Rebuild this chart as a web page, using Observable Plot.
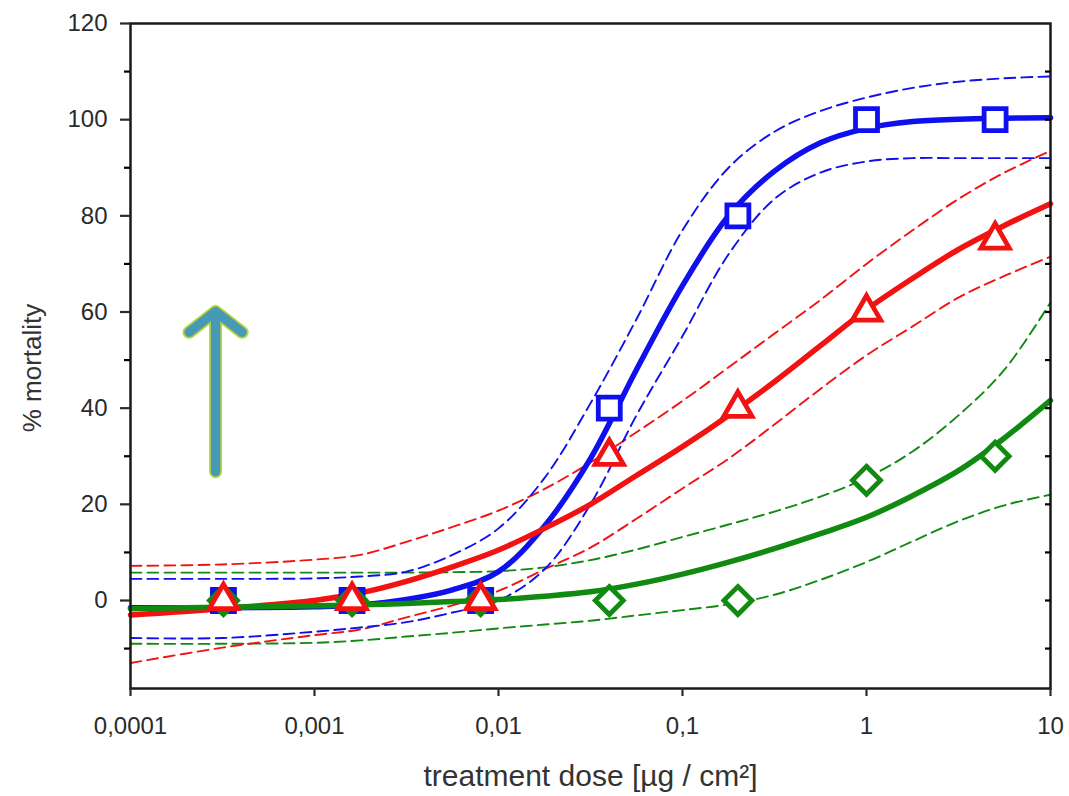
<!DOCTYPE html>
<html>
<head>
<meta charset="utf-8">
<script src="https://cdn.jsdelivr.net/npm/d3@7"></script>
<script src="https://cdn.jsdelivr.net/npm/@observablehq/plot@0.6"></script>
<style>
  html, body { margin: 0; padding: 0; background: #ffffff; }
  #chart { width: 1069px; height: 796px; }
</style>
</head>
<body>
<div id="chart"></div>
<script>
// ---- measured points (dose in µg/cm², % mortality) ----
const pointDose = [0.00032, 0.0016, 0.008, 0.04, 0.2, 1, 5];
const bluePoints = [0, 0, 0, 40, 80, 100, 100];
const redPoints = [0, 0, 0, 30, 40, 60, 75];
const greenPoints = [0, 0, 0, 0, 0, 25, 30];

// ---- fitted curves and confidence bands ----
const curveDose = [0.0001, 0.000316, 0.001, 0.00178, 0.00316, 0.00562, 0.01, 0.0178, 0.0316, 0.0562,
                   0.1, 0.178, 0.316, 0.562, 1, 1.78, 3.16, 5.62, 10];
const blueFit   = [-1.5, -1.5, -1.3, -0.9, 0.2, 2.2, 6, 15.5, 29.5, 48, 65.5, 80, 89.3, 95.2, 98.2, 99.6, 100.1, 100.3, 100.4];
const blueUpper = [4.5, 4.5, 4.6, 5.0, 6.0, 9.5, 15, 25.5, 41, 58.5, 77, 90, 97.5, 101.8, 104.6, 106.6, 107.9, 108.6, 109];
const blueLower = [-7.8, -7.8, -6.5, -5.6, -4.5, -2.5, 0, 6.5, 20, 38.5, 55, 72, 83.5, 89, 91.3, 92, 92, 92, 92];
const redFit    = [-3, -1.7, 0, 1.6, 4, 7, 10.5, 15, 20, 26, 32, 38.5, 45.5, 53, 60.5, 67, 73, 78, 82.5];
const redUpper  = [7.2, 7.5, 8.5, 9.5, 12.2, 15.3, 18.7, 23.2, 28.7, 35, 41.5, 48.5, 55.5, 62.5, 70, 77, 83.5, 89, 93.5];
const redLower  = [-13, -9.8, -7.2, -6, -3.5, -1, 2, 6.5, 11, 17, 23.3, 29.5, 36.6, 44, 51, 57, 63, 67.5, 71.5];
const greenFit  = [-1.7, -1.4, -1.1, -0.9, -0.6, -0.2, 0.2, 0.9, 1.8, 3.4, 5.5, 8, 10.8, 13.9, 17.3, 21.8, 27, 33.8, 41.6];
const greenUpper= [5.8, 5.8, 5.8, 5.8, 5.8, 5.9, 6.1, 6.9, 8.4, 10.6, 13.2, 15.8, 18.5, 21.6, 25.5, 31, 38.5, 48, 62];
const greenLower= [-9, -9, -8.8, -8.3, -7.5, -6.7, -5.8, -5, -4.2, -3.1, -2, -0.8, 1.2, 4.3, 8, 12.3, 16.5, 19.8, 22];

// ---- axes ----
const doseTicks = [0.0001, 0.001, 0.01, 0.1, 1, 10];
const doseTickLabels = ["0,0001", "0,001", "0,01", "0,1", "1", "10"];
const yMajorTicks = [0, 20, 40, 60, 80, 100, 120];
const yMinorTicks = [-10, 10, 30, 50, 70, 90, 110];
const yAllTicks = [-10, 0, 10, 20, 30, 40, 50, 60, 70, 80, 90, 100, 110];
const xTitle = "treatment dose [µg / cm²]";
const yTitle = "% mortality";

// annotation arrow (data coordinates)
const arrowAnnot = [{dose: 0.00029, from: 26.8, to: 60.1}];

const BLUE = "#1010ee", RED = "#f21212", GREEN = "#118a11";

const toRows = (xs, ys) => xs.map((x, i) => ({dose: x, v: ys[i]}));

const dashed = {strokeWidth: 1.9, strokeDasharray: "11,6", curve: "catmull-rom"};
const solid = {strokeWidth: 5.5, curve: "catmull-rom", strokeLinecap: "round"};

const chart = Plot.plot({
  width: 1069,
  height: 796,
  marginLeft: 130,
  marginRight: 19,
  marginTop: 23,
  marginBottom: 108,
  style: {fontFamily: "'Liberation Sans', Arial, sans-serif", background: "#ffffff"},
  x: {type: "log", domain: [0.0001, 10]},
  y: {domain: [-18.3, 120]},
  marks: [
    // confidence bands
    Plot.line(toRows(curveDose, greenUpper), {x: "dose", y: "v", stroke: GREEN, ...dashed}),
    Plot.line(toRows(curveDose, greenLower), {x: "dose", y: "v", stroke: GREEN, ...dashed}),
    Plot.line(toRows(curveDose, redUpper), {x: "dose", y: "v", stroke: RED, ...dashed}),
    Plot.line(toRows(curveDose, redLower), {x: "dose", y: "v", stroke: RED, ...dashed}),
    Plot.line(toRows(curveDose, blueUpper), {x: "dose", y: "v", stroke: BLUE, ...dashed}),
    Plot.line(toRows(curveDose, blueLower), {x: "dose", y: "v", stroke: BLUE, ...dashed}),
    // fitted curves
    Plot.line(toRows(curveDose, blueFit), {x: "dose", y: "v", stroke: BLUE, ...solid}),
    Plot.line(toRows(curveDose, redFit), {x: "dose", y: "v", stroke: RED, ...solid}),
    Plot.line(toRows(curveDose, greenFit), {x: "dose", y: "v", stroke: GREEN, ...solid}),
    // markers
    Plot.dot(toRows(pointDose, bluePoints), {x: "dose", y: "v", symbol: "square", r: 12.4, stroke: BLUE, strokeWidth: 4.8, fill: "white"}),
    Plot.dot(toRows(pointDose, greenPoints), {x: "dose", y: "v", symbol: "diamond2", r: 12.6, stroke: GREEN, strokeWidth: 4.8, fill: "white"}),
    Plot.dot(toRows(pointDose, redPoints), {x: "dose", y: "v", symbol: "triangle", r: 10.5, stroke: RED, strokeWidth: 4.8, fill: "white"}),
    // annotation arrow
    Plot.arrow(arrowAnnot, {x: "dose", y1: "from", y2: "to", stroke: "#b8d838", strokeWidth: 13, headAngle: 104, headLength: 3.9, strokeLinecap: "round", strokeLinejoin: "round"}),
    Plot.arrow(arrowAnnot, {x: "dose", y1: "from", y2: "to", stroke: "#4799b5", strokeWidth: 9.5, headAngle: 104, headLength: 5.3, strokeLinecap: "round", strokeLinejoin: "round"}),
    // frame and axes
    Plot.frame({stroke: "#1a1a1a", strokeWidth: 2.5}),
    Plot.axisY(yMajorTicks, {anchor: "left", tickSize: 10, tickPadding: 13, strokeWidth: 2.2, fontSize: 24, color: "#2a2a2a", label: null, tickFormat: d => String(d)}),
    Plot.axisY(yMinorTicks, {anchor: "left", tickSize: 6, strokeWidth: 2.2, label: null, tickFormat: () => ""}),
    Plot.axisY(yAllTicks, {anchor: "right", tickSize: -6, strokeWidth: 2.2, label: null, tickFormat: () => ""}),
    Plot.axisX(doseTicks, {anchor: "bottom", tickSize: 8, tickPadding: 20, strokeWidth: 2.2, fontSize: 24, color: "#2a2a2a", label: null,
      tickFormat: d => doseTickLabels[doseTicks.indexOf(d)]}),
    // titles
    Plot.text([yTitle], {text: d => d, frameAnchor: "left", textAnchor: "middle", lineAnchor: "middle", dx: -98, dy: 12, rotate: -90, fontSize: 26, fill: "#333333"}),
    Plot.text([xTitle], {text: d => d, frameAnchor: "bottom", textAnchor: "middle", lineAnchor: "middle", dy: 88, fontSize: 30, fill: "#333333"})
  ]
});
document.getElementById("chart").appendChild(chart);
</script>
</body>
</html>
